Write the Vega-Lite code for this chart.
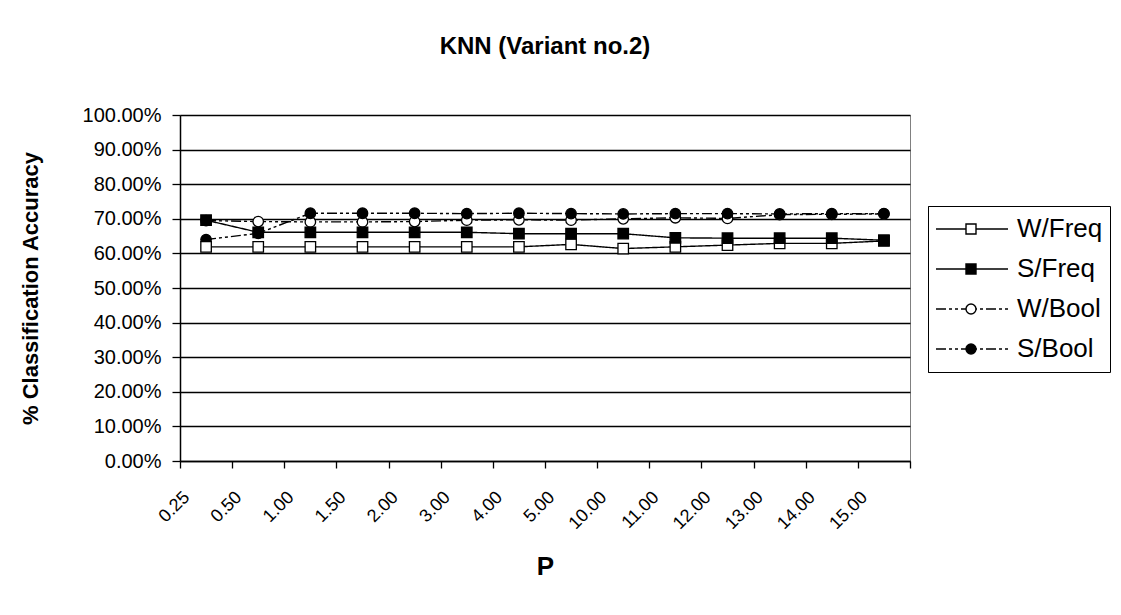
{
  "$schema": "https://vega.github.io/schema/vega-lite/v6.json",
  "width": 730,
  "height": 346,
  "autosize": {"type": "none"},
  "padding": {"left": 180, "top": 115, "right": 211, "bottom": 154},
  "background": "white",
  "config": {
    "font": "Liberation Sans",
    "view": {"stroke": "#808080", "strokeWidth": 1}
  },
  "title": {
    "text": "KNN (Variant no.2)",
    "font": "Liberation Sans",
    "fontSize": 24,
    "fontWeight": "bold",
    "color": "black",
    "anchor": "middle",
    "frame": "group",
    "baseline": "alphabetic",
    "offset": 27
  },
  "data": {
    "values": [
      {"P": "0.25", "series": "W/Bool", "acc": 0.695},
      {"P": "0.50", "series": "W/Bool", "acc": 0.692},
      {"P": "1.00", "series": "W/Bool", "acc": 0.691},
      {"P": "1.50", "series": "W/Bool", "acc": 0.691},
      {"P": "2.00", "series": "W/Bool", "acc": 0.692},
      {"P": "3.00", "series": "W/Bool", "acc": 0.696},
      {"P": "4.00", "series": "W/Bool", "acc": 0.697},
      {"P": "5.00", "series": "W/Bool", "acc": 0.696},
      {"P": "10.00", "series": "W/Bool", "acc": 0.700},
      {"P": "11.00", "series": "W/Bool", "acc": 0.703},
      {"P": "12.00", "series": "W/Bool", "acc": 0.701},
      {"P": "13.00", "series": "W/Bool", "acc": 0.712},
      {"P": "14.00", "series": "W/Bool", "acc": 0.713},
      {"P": "15.00", "series": "W/Bool", "acc": 0.714},
      {"P": "0.25", "series": "S/Bool", "acc": 0.640},
      {"P": "0.50", "series": "S/Bool", "acc": 0.658},
      {"P": "1.00", "series": "S/Bool", "acc": 0.716},
      {"P": "1.50", "series": "S/Bool", "acc": 0.716},
      {"P": "2.00", "series": "S/Bool", "acc": 0.716},
      {"P": "3.00", "series": "S/Bool", "acc": 0.715},
      {"P": "4.00", "series": "S/Bool", "acc": 0.716},
      {"P": "5.00", "series": "S/Bool", "acc": 0.715},
      {"P": "10.00", "series": "S/Bool", "acc": 0.714},
      {"P": "11.00", "series": "S/Bool", "acc": 0.715},
      {"P": "12.00", "series": "S/Bool", "acc": 0.715},
      {"P": "13.00", "series": "S/Bool", "acc": 0.714},
      {"P": "14.00", "series": "S/Bool", "acc": 0.715},
      {"P": "15.00", "series": "S/Bool", "acc": 0.715},
      {"P": "0.25", "series": "W/Freq", "acc": 0.619},
      {"P": "0.50", "series": "W/Freq", "acc": 0.619},
      {"P": "1.00", "series": "W/Freq", "acc": 0.619},
      {"P": "1.50", "series": "W/Freq", "acc": 0.619},
      {"P": "2.00", "series": "W/Freq", "acc": 0.619},
      {"P": "3.00", "series": "W/Freq", "acc": 0.619},
      {"P": "4.00", "series": "W/Freq", "acc": 0.619},
      {"P": "5.00", "series": "W/Freq", "acc": 0.626},
      {"P": "10.00", "series": "W/Freq", "acc": 0.614},
      {"P": "11.00", "series": "W/Freq", "acc": 0.619},
      {"P": "12.00", "series": "W/Freq", "acc": 0.624},
      {"P": "13.00", "series": "W/Freq", "acc": 0.629},
      {"P": "14.00", "series": "W/Freq", "acc": 0.629},
      {"P": "15.00", "series": "W/Freq", "acc": 0.636},
      {"P": "0.25", "series": "S/Freq", "acc": 0.696},
      {"P": "0.50", "series": "S/Freq", "acc": 0.661},
      {"P": "1.00", "series": "S/Freq", "acc": 0.661},
      {"P": "1.50", "series": "S/Freq", "acc": 0.661},
      {"P": "2.00", "series": "S/Freq", "acc": 0.661},
      {"P": "3.00", "series": "S/Freq", "acc": 0.661},
      {"P": "4.00", "series": "S/Freq", "acc": 0.657},
      {"P": "5.00", "series": "S/Freq", "acc": 0.657},
      {"P": "10.00", "series": "S/Freq", "acc": 0.657},
      {"P": "11.00", "series": "S/Freq", "acc": 0.645},
      {"P": "12.00", "series": "S/Freq", "acc": 0.644},
      {"P": "13.00", "series": "S/Freq", "acc": 0.644},
      {"P": "14.00", "series": "S/Freq", "acc": 0.644},
      {"P": "15.00", "series": "S/Freq", "acc": 0.638}
    ]
  },
  "encoding": {
    "x": {
      "field": "P",
      "type": "ordinal",
      "scale": {
        "type": "band",
        "paddingInner": 0,
        "paddingOuter": 0,
        "domain": ["0.25","0.50","1.00","1.50","2.00","3.00","4.00","5.00","10.00","11.00","12.00","13.00","14.00","15.00"]
      },
      "axis": {
        "title": "P",
        "titleFont": "Liberation Sans",
        "titleFontSize": 26,
        "titleFontWeight": "bold",
        "titleColor": "black",
        "titlePadding": 21,
        "labelFont": "Liberation Sans",
        "labelFontSize": 18,
        "labelColor": "black",
        "labelAngle": -45,
        "labelAlign": "right",
        "labelBaseline": "top",
        "labelOffset": -26,
        "labelPadding": 20,
        "labelOverlap": false,
        "labelFlush": false,
        "tickBand": "extent",
        "tickSize": 7,
        "tickColor": "black",
        "tickWidth": 1.3,
        "domainColor": "black",
        "domainWidth": 1.5,
        "grid": false
      }
    },
    "y": {
      "field": "acc",
      "type": "quantitative",
      "scale": {"domain": [0, 1], "nice": false, "zero": true},
      "axis": {
        "title": "% Classification Accuracy",
        "titleFont": "Liberation Sans",
        "titleFontSize": 22,
        "titleFontWeight": "bold",
        "titleColor": "black",
        "titlePadding": 40,
        "values": [0, 0.1, 0.2, 0.3, 0.4, 0.5, 0.6, 0.7, 0.8, 0.9, 1],
        "format": ".2%",
        "labelFont": "Liberation Sans",
        "labelFontSize": 20,
        "labelColor": "black",
        "labelPadding": 11,
        "tickSize": 8,
        "tickColor": "black",
        "tickWidth": 1.3,
        "domainColor": "black",
        "domainWidth": 1.5,
        "grid": true,
        "gridColor": "black",
        "gridWidth": 1.4
      }
    }
  },
  "layer": [
    {
      "mark": {"type": "line", "color": "black", "clip": false},
      "encoding": {
        "detail": {"field": "series", "type": "nominal"},
        "strokeDash": {
          "field": "series",
          "type": "nominal",
          "sort": ["W/Freq", "S/Freq", "W/Bool", "S/Bool"],
          "scale": {
            "range": [[1, 0], [1, 0], [10, 3, 3, 3, 3, 3], [10, 3, 3, 3, 3, 3]]
          },
          "legend": {
            "title": null,
            "orient": "none",
            "legendX": 748,
            "legendY": 91,
            "padding": 7,
            "strokeColor": "black",
            "fillColor": "white",
            "clipHeight": 32,
            "rowPadding": 8,
            "symbolType": "stroke",
            "symbolSize": 5184,
            "symbolStrokeColor": "black",
            "labelFont": "Liberation Sans",
            "labelFontSize": 26,
            "labelColor": "black",
            "labelOffset": 8,
            "zindex": 0,
            "encoding": {
              "symbols": {
                "strokeDash": {"value": {"expr": "(datum.value == 'W/Bool' || datum.value == 'S/Bool') ? [10, 3, 3, 3, 3, 3] : [1, 0]"}},
                "strokeWidth": {"value": {"expr": "(datum.value == 'W/Bool' || datum.value == 'S/Bool') ? 2.2 : 1.4"}},
                "stroke": {"value": "black"}
              }
            }
          }
        },
        "strokeWidth": {
          "field": "series",
          "type": "nominal",
          "sort": ["W/Freq", "S/Freq", "W/Bool", "S/Bool"],
          "scale": {
            "range": [1.4, 1.4, 2.4, 2.4]
          },
          "legend": {
            "title": null,
            "orient": "none",
            "legendX": 748,
            "legendY": 91,
            "padding": 7,
            "strokeColor": "black",
            "fillColor": "white",
            "clipHeight": 32,
            "rowPadding": 8,
            "symbolType": "stroke",
            "symbolSize": 5184,
            "symbolStrokeColor": "black",
            "labelFont": "Liberation Sans",
            "labelFontSize": 26,
            "labelColor": "black",
            "labelOffset": 8,
            "zindex": 0,
            "encoding": {
              "symbols": {
                "strokeDash": {"value": {"expr": "(datum.value == 'W/Bool' || datum.value == 'S/Bool') ? [10, 3, 3, 3, 3, 3] : [1, 0]"}},
                "strokeWidth": {"value": {"expr": "(datum.value == 'W/Bool' || datum.value == 'S/Bool') ? 2.2 : 1.4"}},
                "stroke": {"value": "black"}
              }
            }
          }
        }
      }
    },
    {
      "mark": {"type": "point", "filled": true, "stroke": "black", "strokeWidth": 1.3, "opacity": 1, "size": 110},
      "encoding": {
        "shape": {
          "field": "series",
          "type": "nominal",
          "scale": {
            "domain": ["W/Freq", "S/Freq", "W/Bool", "S/Bool"],
            "range": ["square", "square", "circle", "circle"]
          },
          "legend": {
            "title": null,
            "orient": "none",
            "legendX": 748,
            "legendY": 91,
            "padding": 7,
            "strokeColor": "transparent",
            "fillColor": "transparent",
            "clipHeight": 32,
            "rowPadding": 8,
            "symbolSize": 100,
            "symbolOffset": 23,
            "symbolStrokeColor": "black",
            "symbolStrokeWidth": 1.4,
            "labelExpr": "''",
            "labelFontSize": 26,
            "labelOffset": 70,
            "zindex": 1,
            "encoding": {
              "symbols": {
                "stroke": {"value": "black"},
                "strokeWidth": {"value": 1.4},
                "opacity": {"value": 1}
              }
            }
          }
        },
        "fill": {
          "field": "series",
          "type": "nominal",
          "scale": {
            "domain": ["W/Freq", "S/Freq", "W/Bool", "S/Bool"],
            "range": ["white", "black", "white", "black"]
          },
          "legend": {
            "title": null,
            "orient": "none",
            "legendX": 748,
            "legendY": 91,
            "padding": 7,
            "strokeColor": "transparent",
            "fillColor": "transparent",
            "clipHeight": 32,
            "rowPadding": 8,
            "symbolSize": 100,
            "symbolOffset": 23,
            "symbolStrokeColor": "black",
            "symbolStrokeWidth": 1.4,
            "labelExpr": "''",
            "labelFontSize": 26,
            "labelOffset": 70,
            "zindex": 1,
            "encoding": {
              "symbols": {
                "stroke": {"value": "black"},
                "strokeWidth": {"value": 1.4},
                "opacity": {"value": 1}
              }
            }
          }
        }
      }
    }
  ]
}
